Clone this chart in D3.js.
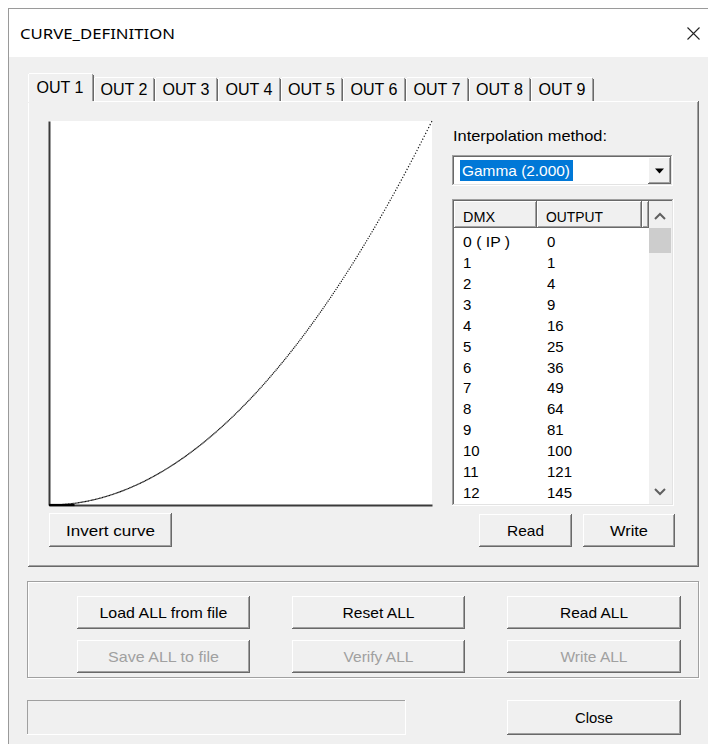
<!DOCTYPE html>
<html><head><meta charset="utf-8">
<script src="https://cdn.jsdelivr.net/npm/d3@7"></script>
<style>body{margin:0;background:#fff;} svg{display:block;font-family:"Liberation Sans",Arial,sans-serif;}</style>
</head><body><svg id="c" width="708" height="744"></svg>
<script>
// ---------- data ----------
const windowTitle = "CURVE_DEFINITION";
const tabLabels = ["OUT 1","OUT 2","OUT 3","OUT 4","OUT 5","OUT 6","OUT 7","OUT 8","OUT 9"];
const methodLabel = "Interpolation method:";
const methodValue = "Gamma (2.000)";
const columnHeaders = ["DMX","OUTPUT"];
const dmxLabels = ["0 ( IP )","1","2","3","4","5","6","7","8","9","10","11","12"];
const outputValues = [0,1,4,9,16,25,36,49,64,81,100,121,145];
// curve: DMX input (0..255) -> output (0..65535)
const curveDmx = [0,15,30,45,60,75,90,105,120,135,150,165,180,195,210,225,240,255];
const curveOutput = [0,226,907,2041,3628,5669,8163,11111,14512,18367,22676,27438,32654,38323,44445,51022,58052,65535];
const groupButtons = [["Load ALL from file","Reset ALL","Read ALL"],["Save ALL to file","Verify ALL","Write ALL"]];

// ---------- helpers ----------
const svg = d3.select("#c");
function box(x,y,w,h,fill,p){ (p||svg).append("rect").attr("x",x).attr("y",y).attr("width",w).attr("height",h).attr("fill",fill); }
function hl(x1,x2,y,c){ box(x1,y,x2-x1,1,c); }
function vl(x,y1,y2,c){ box(x,y1,1,y2-y1,c); }
function raised(x,y,w,h,face){
  box(x,y,w,h,face||"#f0f0f0");
  hl(x,x+w-1,y,"#ffffff"); vl(x,y,y+h-1,"#ffffff");
  hl(x+1,x+w-1,y+h-2,"#a0a0a0"); vl(x+w-2,y+1,y+h-1,"#a0a0a0");
  hl(x,x+w,y+h-1,"#696969"); vl(x+w-1,y,y+h,"#696969");
}
function sunken(x,y,w,h,face){
  box(x,y,w,h,face||"#ffffff");
  hl(x,x+w-1,y,"#a0a0a0"); vl(x,y,y+h-1,"#a0a0a0");
  hl(x+1,x+w-2,y+1,"#696969"); vl(x+1,y+1,y+h-2,"#696969");
  hl(x,x+w,y+h-1,"#ffffff"); vl(x+w-1,y,y+h,"#ffffff");
  hl(x+1,x+w-1,y+h-2,"#e3e3e3"); vl(x+w-2,y+1,y+h-1,"#e3e3e3");
}
function label(x,y,s,o){
  o=o||{};
  const t=svg.append("text").attr("x",x).attr("y",y).text(s)
    .attr("font-size",o.size||15).attr("fill",o.fill||"#000")
    .attr("text-anchor",o.anchor||"start");
  if(o.family) t.attr("font-family",o.family);
  if(o.len) t.attr("textLength",o.len).attr("lengthAdjust","spacingAndGlyphs");
  return t;
}
function button(x,y,w,h,s,len,disabled){
  raised(x,y,w,h);
  label(x+w/2,y+h/2+5.5,s,{anchor:"middle",len:len,fill:disabled?"#a0a0a0":"#000"});
}

// ---------- window ----------
box(8,8,700,736,"#f0f0f0");
box(9,9,699,48,"#ffffff");
vl(8,8,744,"#9a9a9a"); hl(8,708,8,"#9a9a9a");
label(20,39,windowTitle,{size:15,family:"'Noto Sans','Open Sans',sans-serif",len:155});
svg.append("path").attr("d","M687.5,27.5L699.5,39.5M699.5,27.5L687.5,39.5").attr("stroke","#222").attr("stroke-width",1.1);

// ---------- tab panel ----------
box(28,101,672,466,"#f0f0f0");
hl(28,698,101,"#ffffff"); vl(28,101,566,"#ffffff");
vl(697,102,566,"#a0a0a0"); vl(698,101,567,"#696969");
hl(29,698,565,"#a0a0a0"); hl(28,699,566,"#696969");

const tabEdges=[28,94,155,218,281,343,406,469,531,594];
tabLabels.forEach((t,i)=>{
  const x0=tabEdges[i], x1=tabEdges[i+1];
  if(i===0){
    box(x0,73,x1-x0,30,"#f0f0f0");
    hl(x0+1,x1-2,73,"#ffffff"); vl(x0,74,102,"#ffffff");
    vl(x1-2,74,101,"#a0a0a0"); vl(x1-1,75,101,"#696969");
    label((x0+x1)/2-1,93,t,{anchor:"middle",len:47,size:16});
  } else {
    hl(x0+1,x1-2,77,"#ffffff"); vl(x0,78,101,"#ffffff");
    vl(x1-2,78,101,"#a0a0a0"); vl(x1-1,79,101,"#696969");
    label((x0+x1)/2-0.5,95,t,{anchor:"middle",len:47,size:16});
  }
});

// ---------- curve plot ----------
const x=d3.scaleLinear().domain([0,255]).range([49,432]);
const y=d3.scaleLinear().domain([0,65535]).range([505,121]);
box(49,121,383,384,"#ffffff");
const line=d3.line().x((d,i)=>x(curveDmx[i])).y(d=>y(d)).curve(d3.curveMonotoneX);
const cp=svg.append("path").datum(curveOutput).attr("d",line)
  .attr("fill","none").attr("stroke","#111").attr("stroke-width",1.2);
// dot spacing grows with the slope, like one dot per DMX step
(function(){
  const node=cp.node(), L=node.getTotalLength(), arr=[];
  let s=0;
  while(s<L){
    const p=node.getPointAtLength(s);
    const t=(505-p.y)/384;
    const dash=1.2, gap=Math.max(0.25,t*2.1);
    arr.push(dash,gap); s+=dash+gap;
  }
  cp.attr("stroke-dasharray",arr.map(v=>v.toFixed(2)).join(" "));
})();
const ax=svg.append("g").attr("transform","translate(49,0)").call(d3.axisLeft(y).tickValues([]).tickSizeOuter(0));
const bx=svg.append("g").attr("transform","translate(0,505)").call(d3.axisBottom(x).tickValues([]).tickSizeOuter(0));
[ax,bx].forEach(g=>g.select(".domain").attr("stroke","#3a3a3a").attr("stroke-width",2));
svg.append("path").attr("d","M49,505L"+x(17)+",505").attr("stroke","#000").attr("stroke-width",2.2);

button(49,513,123,34,"Invert curve",89);

// ---------- method combobox ----------
label(453,141,methodLabel,{len:154});
sunken(452,155,221,31);
box(460,160,113,21,"#0078d7");
label(462,176,methodValue,{fill:"#fff",len:108});
raised(648,157,23,27);
svg.append("path").attr("d","M655,168.5L664,168.5L659.5,173.5Z").attr("fill","#000");

// ---------- list view ----------
sunken(452,199,222,307);
const hdr=[[454,537],[537,642],[642,649]];
hdr.forEach((h,i)=>{
  raised(h[0],201,h[1]-h[0],27);
  if(i<2) label(h[0]+9,222,columnHeaders[i],{len:i===0?32:57});
});
box(649,201,23,303,"#f0f0f0");
box(649,228,22,25,"#cdcdcd");
svg.append("path").attr("d","M655,219L660,214L665,219").attr("fill","none").attr("stroke","#606060").attr("stroke-width",2);
svg.append("path").attr("d","M655,489L660,494L665,489").attr("fill","none").attr("stroke","#606060").attr("stroke-width",2);
const rowY=d3.scaleLinear().domain([0,12]).range([247,498]);
dmxLabels.forEach((d,i)=>{
  label(463,rowY(i),d,i===0?{len:47}:{});
  label(547,rowY(i),String(outputValues[i]));
});

button(479,514,93,33,"Read",37);
button(583,514,92,33,"Write",38);

// ---------- group box ----------
svg.append("rect").attr("x",28.5).attr("y",582.5).attr("width",671).attr("height",96).attr("fill","none").attr("stroke","#ffffff");
svg.append("rect").attr("x",27.5).attr("y",581.5).attr("width",671).attr("height",96).attr("fill","none").attr("stroke","#a0a0a0");
const colX=[[77,173],[292,173],[507,174]];
const lens=[[128,72,68],[111,70,67]];
groupButtons.forEach((row,r)=>row.forEach((s,c)=>{
  button(colX[c][0],596+r*44,colX[c][1],33,s,lens[r][c],r===1);
}));

// ---------- status + close ----------
box(27,700,379,35,"#f0f0f0");
hl(27,406,700,"#a0a0a0"); vl(27,700,735,"#a0a0a0");
hl(27,406,734,"#ffffff"); vl(405,700,735,"#ffffff");
button(507,700,174,35,"Close",38);
</script></body></html>
